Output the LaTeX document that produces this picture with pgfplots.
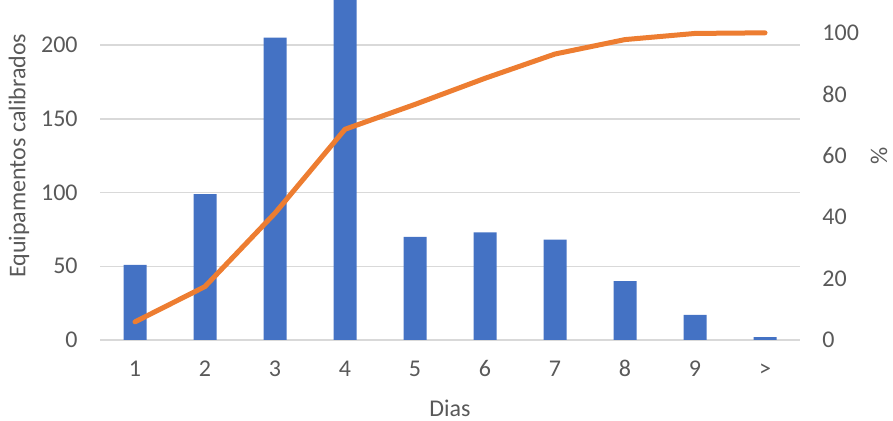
\documentclass[border=0pt]{standalone}
\usepackage{fontspec}
\setmainfont{Carlito}
\usepackage{pgfplots}
\pgfplotsset{compat=1.18}
\definecolor{barblue}{HTML}{4472C4}
\definecolor{lineorange}{HTML}{ED7D31}
\definecolor{gridgray}{HTML}{D9D9D9}
\definecolor{textgray}{HTML}{595959}

\begin{document}
\begin{tikzpicture}[font=\fontsize{12}{14}\selectfont]
\useasboundingbox (0,0) rectangle (446.5pt,210.5pt);
\clip (0,0) rectangle (446.5pt,210.5pt);
\pgfplotsset{
  common/.style={
    scale only axis, width=350pt, height=184.3pt,
    at={(50pt,40.5pt)}, anchor=south west,
    xmin=-0.5, xmax=9.5,
    axis line style={draw=none}, major tick length=0pt,
    /pgf/number format/assume math mode=true,
    ticklabel style={text=textgray, font=\fontsize{12}{14}\selectfont, inner sep=0pt},
  },
}
% counts per day
\begin{axis}[common,
  ymin=0, ymax=250, ytick={0,50,...,200},
  ymajorgrids, grid style={gridgray, line width=0.75pt},
  xtick={0,...,9}, xticklabels={1,2,3,4,5,6,7,8,9,>},
  xticklabel style={anchor=base, yshift=-18.5pt},
  yticklabel style={anchor=east, xshift=-11pt},
  every axis x label/.style={at={(axis description cs:0.5,-0.2089)}, anchor=base, text=textgray},
  every axis y label/.style={at={(axis description cs:-0.1157,0.5)}, rotate=90, anchor=center, text=textgray},
  xlabel={Dias}, ylabel={Equipamentos calibrados},
  ybar, bar width=11.5pt,
]
\addplot[fill=barblue, draw=none] coordinates {
  (0,51) (1,99) (2,205) (3,235) (4,70) (5,73) (6,68) (7,40) (8,17) (9,2)
};
\end{axis}
% cumulative percentage
\begin{axis}[common,
  ymin=0, ymax=120, ytick={0,20,...,100},
  xtick=\empty, yticklabel pos=right,
  yticklabel style={anchor=west, xshift=11pt},
  every axis y label/.style={at={(axis description cs:1.113,0.5)}, rotate=90, anchor=center, text=textgray},
  ylabel={\%},
]
\addplot[lineorange, line width=2.5pt, line cap=round, line join=round] coordinates {
  (0,5.9) (1,17.4) (2,41.3) (3,68.6) (4,76.7) (5,85.2) (6,93.1) (7,97.8) (8,99.8) (9,100)
};
\end{axis}
\end{tikzpicture}
\end{document}
